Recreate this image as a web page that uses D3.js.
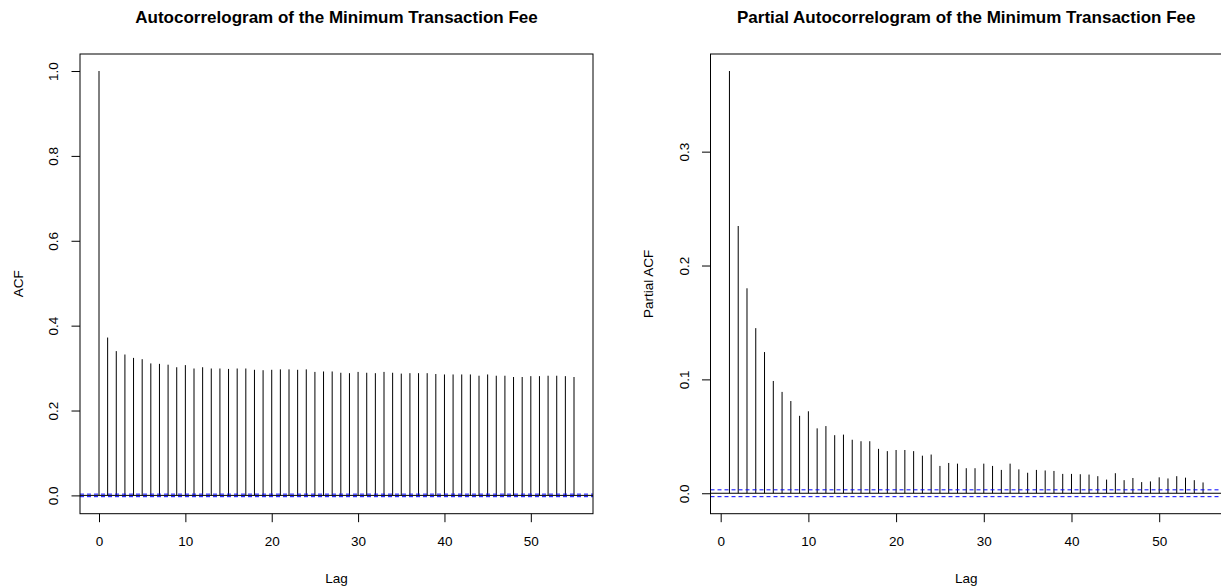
<!DOCTYPE html>
<html>
<head>
<meta charset="utf-8">
<script src="https://cdn.jsdelivr.net/npm/d3@7"></script>
<style>
  body { margin: 0; background: #fff; }
  svg text { font-family: "Liberation Sans", Arial, Helvetica, sans-serif; fill: #000; }
</style>
</head>
<body>
<svg id="chart" width="1221" height="587"></svg>
<script>
// values
var acfValues = [1.000, 0.372, 0.340, 0.332, 0.324, 0.321, 0.311, 0.310, 0.308, 0.302,
                 0.307, 0.299, 0.302, 0.299, 0.299, 0.298, 0.299, 0.299, 0.296, 0.295,
                 0.296, 0.297, 0.297, 0.296, 0.297, 0.291, 0.292, 0.292, 0.289, 0.288,
                 0.291, 0.289, 0.288, 0.291, 0.289, 0.287, 0.288, 0.288, 0.288, 0.286,
                 0.285, 0.285, 0.285, 0.285, 0.282, 0.285, 0.282, 0.282, 0.279, 0.279,
                 0.281, 0.281, 0.282, 0.282, 0.281, 0.279];

var pacfValues = [0.3708, 0.2347, 0.180, 0.145, 0.124, 0.0986, 0.089, 0.081, 0.068, 0.072,
                  0.057, 0.059, 0.051, 0.0515, 0.047, 0.0457, 0.0457, 0.039, 0.037, 0.038,
                  0.038, 0.037, 0.033, 0.034, 0.024, 0.0266, 0.026, 0.022, 0.022, 0.026,
                  0.024, 0.0205, 0.026, 0.021, 0.018, 0.0205, 0.020, 0.0196, 0.017, 0.017,
                  0.0167, 0.0164, 0.015, 0.012, 0.0176, 0.0115, 0.0134, 0.0098, 0.0104, 0.014,
                  0.013, 0.015, 0.0137, 0.0115, 0.0095];

// confidence bound (1.96/sqrt(n))
var clim = 0.003;

var lagTicks = [0, 10, 20, 30, 40, 50];
var acfTicks = [0, 0.2, 0.4, 0.6, 0.8, 1.0];
var pacfTicks = [0, 0.1, 0.2, 0.3];

var svg = d3.select("#chart");

function correlogram(p) {
    var top = 54, bottom = 513.7;

    var data = p.values.map(function(v, i) { return { lag: i + p.firstLag, v: v }; });

    // R style ranges: 4% padding
    var xe = d3.extent(data, function(d) { return d.lag; }),
        xp = (xe[1] - xe[0]) * 0.04;
    var lo = Math.min(-clim, d3.min(p.values)),
        hi = Math.max(clim, d3.max(p.values)),
        yp = (hi - lo) * 0.04;

    var x = d3.scaleLinear().domain([xe[0] - xp, xe[1] + xp]).range([p.left, p.right]);
    var y = d3.scaleLinear().domain([lo - yp, hi + yp]).range([bottom, top]);

    var g = svg.append("g");

    // spikes
    g.selectAll("line.spike")
        .data(data)
        .enter()
        .append("line")
          .attr("class", "spike")
          .attr("x1", function(d) { return x(d.lag); })
          .attr("x2", function(d) { return x(d.lag); })
          .attr("y1", y(0))
          .attr("y2", function(d) { return y(d.v); })
          .style("stroke", "#000")
          .style("stroke-width", 1);

    // zero line
    g.append("line")
        .attr("x1", p.left).attr("x2", p.right)
        .attr("y1", y(0)).attr("y2", y(0))
        .style("stroke", "#000");

    // confidence bounds
    g.selectAll("line.ci")
        .data([clim, -clim])
        .enter()
        .append("line")
          .attr("class", "ci")
          .attr("x1", p.left).attr("x2", p.right)
          .attr("y1", function(d) { return y(d); })
          .attr("y2", function(d) { return y(d); })
          .style("stroke", "#0000ff")
          .style("stroke-dasharray", "4,3");

    // x axis
    var xAxis = d3.axisBottom(x).tickValues(lagTicks).tickSize(8.5).tickPadding(14);
    var gx = g.append("g")
        .attr("transform", "translate(0," + bottom + ")")
        .style("font-size", "13.5px")
        .call(xAxis);
    gx.select(".domain").remove();
    gx.selectAll("text").style("font-family", "'Liberation Sans', Arial, sans-serif");

    // y axis, labels turned like R's las = 0
    var yAxis = d3.axisLeft(y).tickValues(p.yTicks).tickSize(8.5)
        .tickFormat(d3.format(".1f"));
    var gy = g.append("g")
        .attr("transform", "translate(" + p.left + ",0)")
        .style("font-size", "13.5px")
        .call(yAxis);
    gy.select(".domain").remove();
    gy.selectAll("text")
        .attr("transform", "rotate(-90)")
        .attr("x", 0)
        .attr("y", -26.5)
        .attr("dy", "0.36em")
        .attr("text-anchor", "middle")
        .style("font-family", "'Liberation Sans', Arial, sans-serif");

    // box
    g.append("rect")
        .attr("x", p.left).attr("y", top)
        .attr("width", p.right - p.left).attr("height", bottom - top)
        .style("fill", "none")
        .style("stroke", "#000");

    // titles
    var cx = (p.left + p.right) / 2;
    g.append("text")
        .attr("x", cx).attr("y", 23)
        .attr("text-anchor", "middle")
        .style("font-size", "17px")
        .style("font-weight", "bold")
        .text(p.title);

    g.append("text")
        .attr("x", cx).attr("y", 578)
        .attr("dy", "0.36em")
        .attr("text-anchor", "middle")
        .style("font-size", "13.5px")
        .text("Lag");

    g.append("text")
        .attr("transform", "translate(" + (p.left - 62) + "," + ((top + bottom) / 2) + ") rotate(-90)")
        .attr("dy", "0.36em")
        .attr("text-anchor", "middle")
        .style("font-size", "13.5px")
        .text(p.ylab);
}

correlogram({
    left: 80, right: 593,
    values: acfValues, firstLag: 0,
    yTicks: acfTicks,
    title: "Autocorrelogram of the Minimum Transaction Fee",
    ylab: "ACF"
});

correlogram({
    left: 710.5, right: 1222,
    values: pacfValues, firstLag: 1,
    yTicks: pacfTicks,
    title: "Partial Autocorrelogram of the Minimum Transaction Fee",
    ylab: "Partial ACF"
});
</script>
</body>
</html>
